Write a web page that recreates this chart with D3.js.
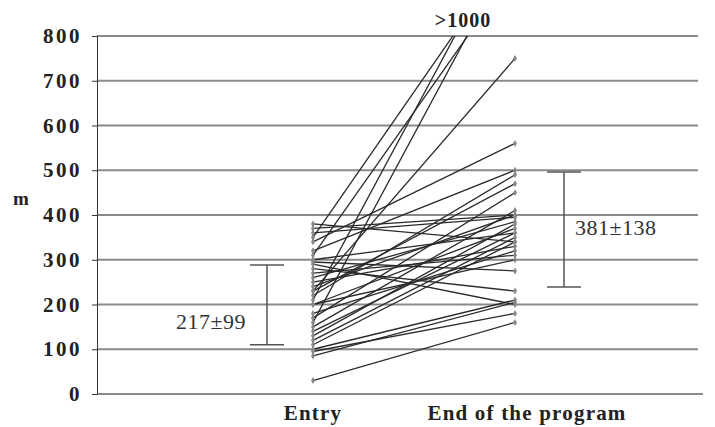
<!DOCTYPE html>
<html>
<head>
<meta charset="utf-8">
<script src="https://cdn.jsdelivr.net/npm/d3@7"></script>
<style>
  body { margin: 0; background: #fff; }
  text { font-family: "Liberation Serif", "DejaVu Serif", serif; }
</style>
</head>
<body>
<script>
const width = 715;
const height = 427;
const margin = { top: 36, right: 12, bottom: 33, left: 97 };

const categories = ["Entry", "End of the program"];
const yTicks = [0, 100, 200, 300, 400, 500, 600, 700, 800];

// walking distance per patient (values above 800 are the ">1000" group)
const entryValues = [30, 85, 95, 100, 110, 120, 130, 140, 150, 160, 170, 180, 200, 210, 220, 230, 240, 250, 260, 270, 280, 290, 295, 300, 310, 320, 340, 350, 360, 370, 380, 230, 200];
const endValues   = [160, 205, 180, 210, 340, 350, 380, 360, 410, 1000, 450, 320, 370, 1050, 490, 750, 400, 330, 385, 310, 230, 200, 275, 360, 950, 500, 560, 1000, 395, 400, 340, 470, 300];

// mean +/- sd bars as drawn
const entryStats = { label: "217±99", low: 110, high: 288 };
const endStats = { label: "381±138", low: 239, high: 496 };

const chartWidth = width - margin.left - margin.right;
const chartHeight = height - margin.top - margin.bottom;

const svg = d3.select("body")
  .append("svg")
  .attr("width", width)
  .attr("height", height);

const g = svg.append("g")
  .attr("transform", `translate(${margin.left}, ${margin.top})`);

const x = d3.scalePoint()
  .domain(categories)
  .range([216, 418]);

const y = d3.scaleLinear()
  .domain([0, 800])
  .range([chartHeight, 0]);

// gridlines
g.append("g")
  .selectAll("line")
  .data(yTicks.filter(d => d > 0))
  .enter()
  .append("line")
    .attr("x1", 0)
    .attr("x2", chartWidth - 5)
    .attr("y1", d => y(d))
    .attr("y2", d => y(d))
    .attr("stroke", "#8a8a8a")
    .attr("stroke-width", 2);

// bottom axis line
g.append("line")
  .attr("x1", 0)
  .attr("x2", chartWidth)
  .attr("y1", chartHeight)
  .attr("y2", chartHeight)
  .attr("stroke", "#8a8a8a")
  .attr("stroke-width", 2);

// y axis
const yAxis = d3.axisLeft(y)
  .tickValues(yTicks)
  .tickSize(5)
  .tickPadding(10);
const yg = g.append("g").call(yAxis);
yg.select(".domain").attr("stroke", "#333");
yg.selectAll(".tick line").attr("stroke", "#333");
yg.selectAll("text")
  .attr("font-family", "Liberation Serif, serif")
  .attr("font-weight", "bold")
  .attr("font-size", 21)
  .attr("letter-spacing", 2.5)
  .attr("fill", "#222");

g.append("text")
  .attr("x", -84)
  .attr("y", y(435) + 6)
  .attr("font-weight", "bold")
  .attr("font-size", 19)
  .attr("fill", "#222")
  .text("m");

// x labels
g.selectAll(".xlab")
  .data(categories)
  .enter()
  .append("text")
    .attr("class", "xlab")
    .attr("x", (d, i) => x(d) + (i ? 12 : 0))
    .attr("y", chartHeight + 26)
    .attr("text-anchor", "middle")
    .attr("font-weight", "bold")
    .attr("font-size", 21)
    .attr("letter-spacing", 1.2)
    .attr("fill", "#222")
    .text(d => d);

// clip so >1000 lines stop at the top
svg.append("clipPath")
  .attr("id", "plot-clip")
  .append("rect")
    .attr("x", 0)
    .attr("y", 0)
    .attr("width", chartWidth)
    .attr("height", chartHeight);

const pairs = entryValues.map((v, i) => ({ start: v, end: endValues[i] }));

const lines = g.append("g").attr("clip-path", "url(#plot-clip)");

lines.selectAll("line")
  .data(pairs)
  .enter()
  .append("line")
    .attr("x1", x(categories[0]))
    .attr("x2", x(categories[1]))
    .attr("y1", d => y(d.start))
    .attr("y2", d => y(d.end))
    .attr("stroke", "#2a2a2a")
    .attr("stroke-width", 1.3);

const diamond = d3.symbol().type(d3.symbolDiamond).size(14);

lines.selectAll(".m0")
  .data(pairs)
  .enter()
  .append("path")
    .attr("class", "m0")
    .attr("d", diamond)
    .attr("transform", d => `translate(${x(categories[0])}, ${y(d.start)})`)
    .attr("fill", "#888");

lines.selectAll(".m1")
  .data(pairs)
  .enter()
  .append("path")
    .attr("class", "m1")
    .attr("d", diamond)
    .attr("transform", d => `translate(${x(categories[1])}, ${y(d.end)})`)
    .attr("fill", "#888");

g.append("text")
  .attr("x", 366)
  .attr("y", -9)
  .attr("text-anchor", "middle")
  .attr("font-weight", "bold")
  .attr("font-size", 20)
  .attr("letter-spacing", 1)
  .attr("fill", "#222")
  .text(">1000");

// error bars
function errorBar(cx, s, tx, ty, anchor) {
  const eb = g.append("g").attr("stroke", "#555").attr("stroke-width", 1.5);
  eb.append("line")
    .attr("x1", cx).attr("x2", cx)
    .attr("y1", y(s.low)).attr("y2", y(s.high));
  eb.append("line")
    .attr("x1", cx - 17).attr("x2", cx + 17)
    .attr("y1", y(s.low)).attr("y2", y(s.low));
  eb.append("line")
    .attr("x1", cx - 17).attr("x2", cx + 17)
    .attr("y1", y(s.high)).attr("y2", y(s.high));
  g.append("text")
    .attr("x", tx)
    .attr("y", ty)
    .attr("text-anchor", anchor)
    .attr("font-size", 22)
    .attr("letter-spacing", 0.5)
    .attr("fill", "#333")
    .text(s.label);
}

errorBar(x(categories[0]) - 46, entryStats, 114, y(160) + 7, "middle");
errorBar(x(categories[1]) + 49, endStats, 478, y(371) + 7, "start");
</script>
</body>
</html>
